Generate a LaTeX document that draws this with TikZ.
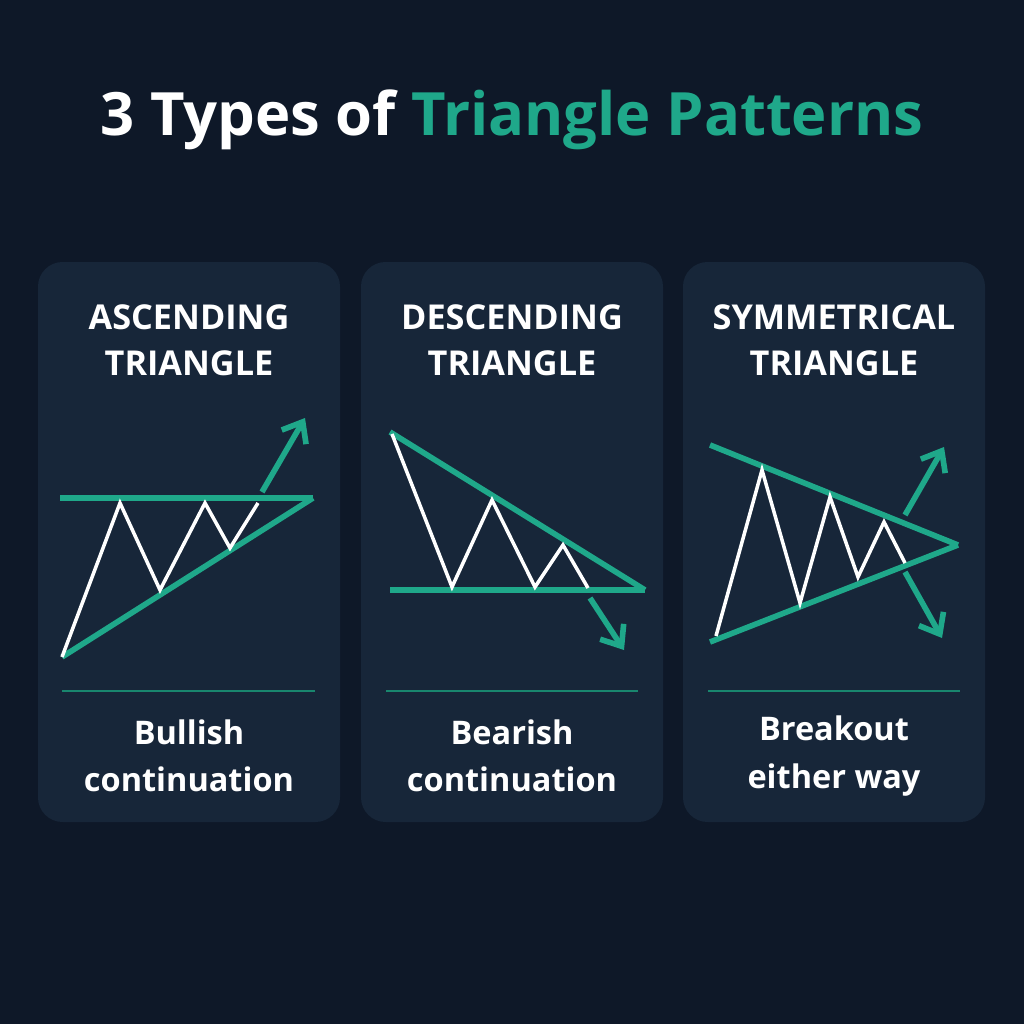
\documentclass[tikz,border=0pt]{standalone}
\usepackage{fontspec}
\setmainfont{Open Sans}
\definecolor{bgnavy}{HTML}{0E1828}
\definecolor{cardnavy}{HTML}{172639}
\definecolor{teal}{HTML}{1FA88A}
\tikzset{
  card/.style={fill=cardnavy, rounded corners=14pt},
  trend/.style={teal, line width=3.2pt},
  price/.style={white, line width=2pt, line join=miter},
  breakout/.style={teal, line width=3.2pt, ->, >={Straight Barb[length=10pt,width=16pt]}},
  rule/.style={teal!80!black, line width=0.8pt},
  heading/.style={font=\bfseries\fontsize{19.5}{26}\selectfont, white, align=center},
  caption/.style={font=\bfseries\fontsize{18.5}{27}\selectfont, white, align=center}
}
\usetikzlibrary{arrows.meta}
\begin{document}
\begin{tikzpicture}[x=0.02cm, y=-0.02cm]
  \fill[bgnavy] (0,0) rectangle (1024,1024);
  \useasboundingbox (0,0) rectangle (1024,1024);

  % title
  \node (title) at (512,120) {\bfseries\fontsize{34}{40}\selectfont\textcolor{white}{3 Types of} \textcolor{teal}{Triangle Patterns}};

  % cards
  \foreach \x in {38,361,683}
    \fill[card] (\x,262) rectangle ++(302,560);

  % ascending
  \node[heading] (asc) at (189,340) {ASCENDING\\TRIANGLE};
  \coordinate (a1) at (60,498);
  \coordinate (a2) at (313,498);
  \coordinate (a3) at (62,657);
  \draw[trend] (a1) -- (a2);
  \draw[trend] (a3) -- (a2);
  \draw[price] (a3) -- (120,503) -- (160,590) -- (205,503) -- (230,548) -- (258,503);
  \draw[breakout] (262,492) -- (305,418);
  \draw[rule] (62,691) -- (315,691);
  \node[caption] (bull) at (189,756) {Bullish\\continuation};

  % descending
  \node[heading] (desc) at (512,340) {DESCENDING\\TRIANGLE};
  \coordinate (d1) at (390,432);
  \coordinate (d2) at (645,590);
  \coordinate (d3) at (390,590);
  \draw[trend] (d1) -- (d2);
  \draw[trend] (d3) -- (d2);
  \draw[price] (392,434) -- (452,587) -- (492,500) -- (535,587) -- (563,545) -- (588,588);
  \draw[breakout] (590,598) -- (624,650);
  \draw[rule] (386,691) -- (638,691);
  \node[caption] (bear) at (512,756) {Bearish\\continuation};

  % symmetrical
  \node[heading] (sym) at (834,340) {SYMMETRICAL\\TRIANGLE};
  \coordinate (s1) at (710,445);
  \coordinate (s2) at (958,545);
  \coordinate (s3) at (710,642);
  \draw[trend] (s1) -- (s2);
  \draw[trend] (s3) -- (s2);
  \draw[price] (716,636) -- (762,470) -- (800,603) -- (830,497) -- (858,577) -- (884,522) -- (905,563);
  \draw[breakout] (905,515) -- (944,447);
  \draw[breakout] (905,572) -- (942,638);
  \draw[rule] (708,691) -- (960,691);
  \node[caption] (brk) at (834,756) {Breakout\\either way};
\end{tikzpicture}
\end{document}
